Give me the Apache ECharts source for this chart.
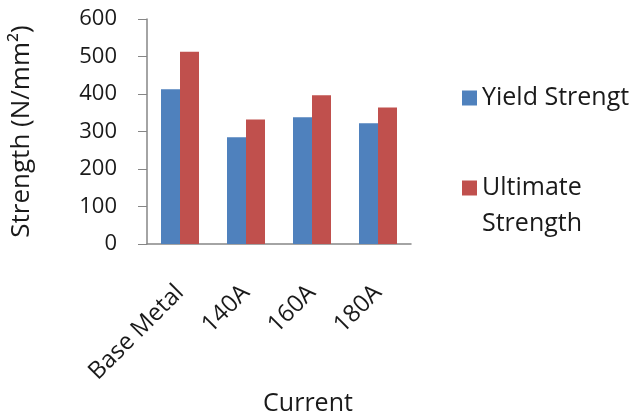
<!DOCTYPE html>
<html>
<head>
<meta charset="utf-8">
<script src="https://cdn.jsdelivr.net/npm/echarts@6/dist/echarts.min.js"></script>
<style>
  html, body { margin: 0; padding: 0; background: #fff; }
  #chart { width: 635px; height: 416px; }
</style>
</head>
<body>
<div id="chart"></div>
<script>
// data
const categories = ['Base Metal', '140A', '160A', '180A']
const yieldStrength = [413, 285, 338, 322]
const ultimateStrength = [513, 332, 397, 364]
const yTicks = [0, 100, 200, 300, 400, 500, 600]

const font = 'Open Sans'
const textColor = '#1a1a1a'

const chart = echarts.init(document.getElementById('chart'))

const legendText = {
  fontFamily: font,
  fontSize: 25,
  color: textColor,
  lineHeight: 36
}

const option = {
  animation: false,
  grid: {
    left: 147,
    right: 224,
    top: 19,
    bottom: 172,
    outerBoundsMode: 'none'
  },
  legend: [
    {
      orient: 'vertical',
      left: 457,
      top: 75,
      itemWidth: 15,
      itemHeight: 15,
      icon: 'rect',
      data: ['Yield Strengt'],
      textStyle: legendText
    },
    {
      // wrapped entry: blank first line keeps the icon level with "Ultimate"
      orient: 'vertical',
      left: 457,
      top: 129,
      itemWidth: 15,
      itemHeight: 15,
      icon: 'rect',
      data: ['Ultimate Strength'],
      formatter: () => '\nUltimate\nStrength',
      textStyle: legendText
    }
  ],
  xAxis: {
    type: 'category',
    data: categories,
    name: 'Current',
    nameLocation: 'middle',
    nameGap: 143,
    nameTextStyle: {
      fontFamily: font,
      fontSize: 25,
      color: textColor,
      padding: [0, 0, 0, 58]
    },
    axisLine: { lineStyle: { color: '#868686', width: 1.5 } },
    axisTick: { show: false },
    axisLabel: {
      rotate: 45,
      margin: 45,
      fontFamily: font,
      fontSize: 24,
      color: textColor
    }
  },
  yAxis: {
    type: 'value',
    min: yTicks[0],
    max: yTicks[yTicks.length - 1],
    interval: 100,
    name: 'Strength (N/mm²)',
    nameLocation: 'middle',
    nameGap: 112,
    nameTextStyle: {
      fontFamily: font,
      fontSize: 26,
      color: textColor
    },
    splitLine: { show: false },
    axisLine: { show: true, lineStyle: { color: '#868686', width: 1.5 } },
    axisTick: { show: true, length: 9, lineStyle: { color: '#868686' } },
    axisLabel: {
      margin: 30,
      fontFamily: font,
      fontSize: 22,
      color: textColor
    }
  },
  series: [
    {
      name: 'Yield Strengt',
      type: 'bar',
      data: yieldStrength,
      barWidth: 19,
      barGap: '0%',
      itemStyle: { color: '#4F81BD' }
    },
    {
      name: 'Ultimate Strength',
      type: 'bar',
      data: ultimateStrength,
      barWidth: 19,
      itemStyle: { color: '#C0504D' }
    }
  ]
}

chart.setOption(option)
</script>
</body>
</html>
